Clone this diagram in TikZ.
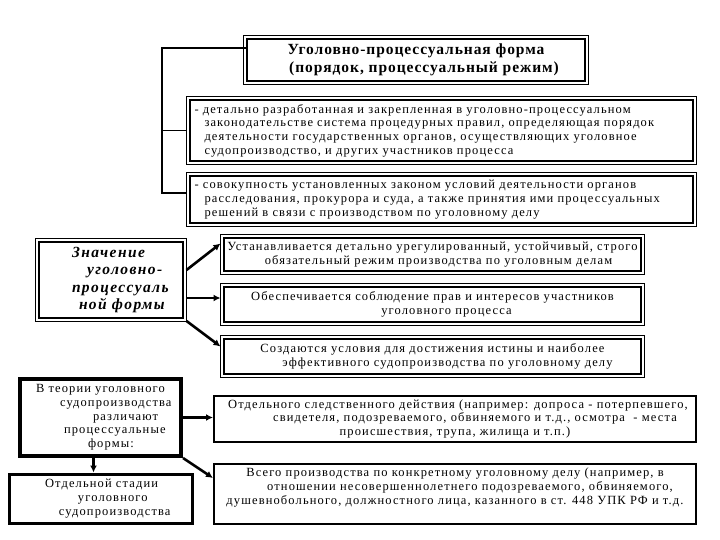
\documentclass[tikz,border=0pt]{standalone}
\usepackage{fontspec}
\setmainfont[LetterSpace=9]{Liberation Serif}
\usetikzlibrary{positioning,calc,arrows.meta}

\tikzset{
  box/.style={draw, line width=2pt, inner sep=0pt, align=center,
    font=\fontsize{12.5}{13.7}\selectfont},
  dbox/.style={box},
  con/.style={line width=1.5pt},
  arr/.style={line width=2.6pt, -{Latex[length=7pt,width=7pt]}}
}

\begin{document}
\begin{tikzpicture}[x=1pt, y=-1pt]
    \useasboundingbox (0,0) rectangle (720,540);

    % verkhnii blok i opredeleniya
    \node[dbox, minimum width=338, minimum height=42,
          font=\bfseries\fontsize{15.5}{18.5}\selectfont\addfontfeatures{LetterSpace=6}] (title) at (416,60)
        {Уголовно-процессуальная форма\\
         \hspace*{16pt}(порядок, процессуальный режим)};
    \node[dbox, minimum width=503, minimum height=61, align=left,
          text width=494] (def1) at (441.5,130.5)
        {- детально разработанная и закрепленная в уголовно-процессуальном\\
         \hspace*{10pt}законодательстве система процедурных правил, определяющая порядок\\
         \hspace*{10pt}деятельности государственных органов, осуществляющих уголовное\\
         \hspace*{10pt}судопроизводство, и других участников процесса};
    \node[dbox, minimum width=503, minimum height=47, align=left,
          text width=494] (def2) at (441.5,199.5)
        {- совокупность установленных законом условий деятельности органов\\
         \hspace*{10pt}расследования, прокурора и суда, а также принятия ими процессуальных\\
         \hspace*{10pt}решений в связи с производством по уголовному делу};

    % znachenie
    \node[dbox, minimum width=144, minimum height=76, align=left, text width=144,
          font=\bfseries\itshape\fontsize{15.5}{17.5}\selectfont] (znach) at (111,280)
        {\hspace*{33pt}Значение\\ \hspace*{48pt}уголовно-\\
         \hspace*{33pt}процессуаль\\ \hspace*{40pt}ной формы};
    \node[dbox, minimum width=417, minimum height=33] (resA) at (432.5,254.5)
        {Устанавливается детально урегулированный, устойчивый, строго\\
         \hspace*{12pt}обязательный режим производства по уголовным делам};
    \node[dbox, minimum width=417, minimum height=35] (resB) at (432.5,304.5)
        {Обеспечивается соблюдение прав и интересов участников\\
         \hspace*{28pt}уголовного процесса};
    \node[dbox, minimum width=417, minimum height=35] (resC) at (432.5,356.5)
        {Создаются условия для достижения истины и наиболее\\
         \hspace*{30pt}эффективного судопроизводства по уголовному делу};

    % formy
    \node[box, line width=4pt, minimum width=161, minimum height=77, align=left,
          text width=161] (teor) at (100.5,417.5)
        {\hspace*{16pt}В теории уголовного\\ \hspace*{40pt}судопроизводства\\
         \hspace*{73pt}различают\\ \hspace*{44pt}процессуальные\\ \hspace*{68pt}формы:};
    \node[box, line width=3pt, minimum width=183, minimum height=49, align=left,
          text width=183] (stage) at (100.5,498.5)
        {\hspace*{36pt}Отдельной стадии\\ \hspace*{69pt}уголовного\\ \hspace*{50pt}судопроизводства};
    \node[box, minimum width=482, minimum height=46] (action) at (455,419)
        {\hspace*{6pt}Отдельного следственного действия (например: допроса - потерпевшего,\\
         \hspace*{40pt}свидетеля, подозреваемого, обвиняемого и т.д., осмотра\ \ - места\\
         происшествия, трупа, жилища и т.п.)};
    \node[box, minimum width=482, minimum height=60] (whole) at (455,494) {};
    \node[box, draw=none, below=4pt of whole.north] (whole text)
        {Всего производства по конкретному уголовному делу (например, в\\
         \hspace*{30pt}отношении несовершеннолетнего подозреваемого, обвиняемого,\\
         душевнобольного, должностного лица, казанного в ст. 448 УПК РФ и т.д.};

    % tonkaya vneshnyaya ramka
    \foreach \n in {title,def1,def2,znach,resA,resB,resC}
        \draw[line width=0.6pt] ($(\n.north west)+(-2.5,-2.5)$) rectangle ($(\n.south east)+(2.5,2.5)$);

    % skobka sleva
    \coordinate (trunk) at (162,48);
    \draw[con] (title.west |- trunk) -- (trunk) |- ($(def2.west)+(-2.5,-6.5)$);
    \draw[con] (trunk |- def1.west) -- ($(def1.west)+(-2.5,0)$);

    % strelki
    \coordinate (down) at ($(teor.south)+(-7,0)$);
    \draw[arr] ($(znach.east)+(2.5,-10)$) -- ($(resA.west)+(-2.5,-11)$);
    \draw[arr] ($(znach.east)+(2.5,18)$) -- ($(resB.west)+(-2.5,-6.5)$);
    \draw[arr] ($(znach.south east)+(2.5,2)$) -- ($(resC.west)+(-2.5,-10)$);
    \draw[arr] (teor.east) -- (action.west |- teor.east);
    \draw[arr] (teor.south east) -- ($(whole.north west)+(0,15)$);
    \draw[arr] (down) -- (stage.north -| down);
\end{tikzpicture}
\end{document}
